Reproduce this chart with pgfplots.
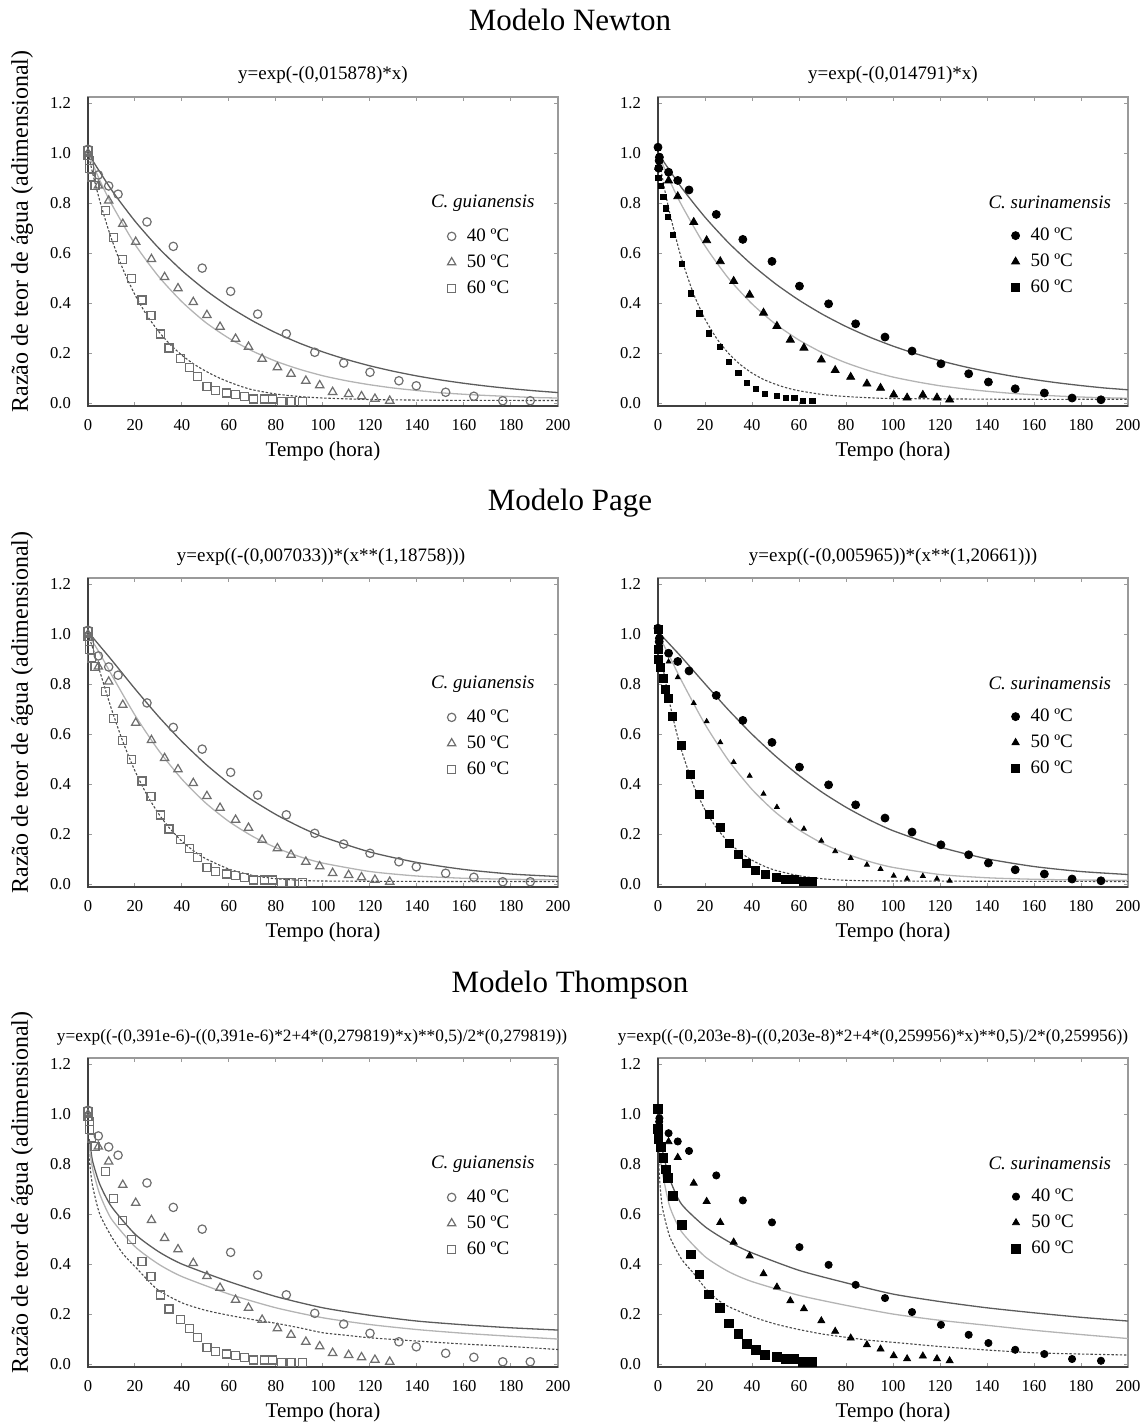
\documentclass[border=0pt]{standalone}
\usepackage{pgfplots}
\pgfplotsset{compat=1.18}
\usepackage{pgfplotstable}
\usepackage{fontspec}
\setmainfont{Liberation Serif}

\definecolor{darkln}{HTML}{5C5C5C}
\definecolor{lightln}{HTML}{B4B4B4}
\definecolor{dotln}{HTML}{4A4A4A}
\definecolor{mkgray}{HTML}{6E6E6E}
\definecolor{framel}{HTML}{9A9A9A}
\definecolor{framed}{HTML}{404040}

% ---------------- observed data ----------------
\pgfplotstableread{
x y
0 1.016
4.4 0.913
8.8 0.869
12.8 0.836
25.1 0.725
36.3 0.627
48.6 0.540
60.7 0.447
72.2 0.356
84.4 0.277
96.5 0.203
108.8 0.160
120.0 0.123
132.3 0.089
139.7 0.069
152.2 0.043
164.2 0.027
176.5 0.009
188.2 0.009
}\GfA
\pgfplotstableread{
x y
0 1.000
4.4 0.870
8.8 0.810
14.8 0.717
20.3 0.645
27.0 0.576
32.6 0.504
38.3 0.459
44.8 0.404
50.6 0.352
56.2 0.305
62.8 0.257
68.3 0.225
74.1 0.177
80.6 0.143
86.4 0.117
92.7 0.089
98.6 0.071
104.1 0.044
110.9 0.036
116.4 0.027
122.1 0.017
128.4 0.009
}\GfB
\pgfplotstableread{
x y
0 1.010
0 0.990
0.5 0.970
0.8 0.940
1.6 0.905
3.0 0.870
7.3 0.772
10.7 0.663
14.7 0.573
18.5 0.500
23.0 0.412
26.8 0.349
30.8 0.276
34.5 0.220
39.3 0.177
43.1 0.141
46.7 0.107
50.6 0.067
54.4 0.051
58.8 0.040
62.6 0.033
66.7 0.027
70.3 0.016
75.1 0.016
78.5 0.016
82.5 0.007
86.4 0.007
91.2 0.007
}\GfC
\pgfplotstableread{
x y
0 1.024
0.6 0.984
0.5 0.970
0.3 0.940
4.5 0.924
8.4 0.891
13.2 0.853
24.8 0.755
36.1 0.655
48.5 0.567
60.2 0.468
72.6 0.397
84.1 0.317
96.6 0.264
108.1 0.208
120.4 0.157
132.2 0.117
140.6 0.084
152.0 0.057
164.4 0.040
176.2 0.020
188.5 0.013
}\SfA
\pgfplotstableread{
x y
0.3 0.944
4.5 0.890
8.4 0.827
15.2 0.724
20.7 0.651
26.5 0.567
32.2 0.488
39.0 0.433
44.9 0.361
50.6 0.308
56.3 0.253
62.1 0.221
69.5 0.173
75.4 0.131
82.0 0.104
88.9 0.077
94.7 0.060
100.3 0.033
106.0 0.021
112.7 0.032
118.7 0.021
124.1 0.013
}\SfB
\pgfplotstableread{
x y
0 1.020
0 0.940
0.2 0.900
1.1 0.868
2.3 0.825
3.3 0.779
4.3 0.745
6.2 0.672
10.0 0.556
13.9 0.439
17.6 0.359
21.7 0.279
26.4 0.225
30.3 0.163
34.2 0.119
37.7 0.081
41.6 0.055
45.5 0.037
50.5 0.028
54.3 0.019
58.0 0.019
61.8 0.009
65.7 0.009
}\SfC

% ---------------- fitted curves ----------------
\pgfplotstableread{
x y
0 1
10 0.8532
20 0.7280
30 0.6211
40 0.5299
50 0.4521
60 0.3857
70 0.3291
80 0.2808
90 0.2396
100 0.2044
110 0.1744
120 0.1488
130 0.1270
140 0.1083
150 0.0924
160 0.0789
170 0.0673
180 0.0574
190 0.0490
200 0.0418
}\NLa
\pgfplotstableread{
x y
0 1
5 0.892
10 0.797
20 0.635
30 0.507
40 0.405
50 0.323
60 0.259
70 0.208
80 0.167
90 0.135
100 0.109
110 0.089
120 0.073
130 0.060
140 0.050
150 0.041
160 0.035
170 0.030
180 0.026
190 0.022
200 0.020
}\NLb
\pgfplotstableread{
x y
0 1
2.5 0.90
5 0.81
7.5 0.73
10 0.657
15 0.533
20 0.433
25 0.352
30 0.287
35 0.234
40 0.191
45 0.156
50 0.128
55 0.104
60 0.084
65 0.067
70 0.053
80 0.036
90 0.026
100 0.020
120 0.014
150 0.011
200 0.010
}\NLc
\pgfplotstableread{
x y
0 1
10 0.8625
20 0.7439
30 0.6416
40 0.5534
50 0.4773
60 0.4117
70 0.3551
80 0.3062
90 0.2641
100 0.2278
110 0.1965
120 0.1695
130 0.1462
140 0.1261
150 0.1087
160 0.0938
170 0.0809
180 0.0698
190 0.0602
200 0.0530
}\NRa
\pgfplotstableread{
x y
0 1
5 0.890
10 0.793
20 0.629
30 0.499
40 0.397
50 0.316
60 0.252
70 0.201
80 0.161
90 0.129
100 0.104
110 0.085
120 0.069
130 0.057
140 0.047
150 0.039
160 0.033
170 0.028
180 0.024
190 0.021
200 0.019
}\NRb
\pgfplotstableread{
x y
0 1
2.5 0.87
5 0.76
7.5 0.665
10 0.578
15 0.44
20 0.336
25 0.258
30 0.199
35 0.154
40 0.12
45 0.094
50 0.075
55 0.060
60 0.049
70 0.034
80 0.026
90 0.021
100 0.018
150 0.015
200 0.015
}\NRc
\pgfplotstableread{
x y
0 1.01
5 0.9536
10 0.8974
20 0.7813
30 0.6708
40 0.5701
50 0.4807
60 0.4027
70 0.3354
80 0.2780
90 0.2295
100 0.1886
120 0.1280
140 0.0862
160 0.0582
180 0.0400
200 0.0300
}\PLa
\pgfplotstableread{
x y
0 1
5 0.9235
10 0.8381
20 0.6758
30 0.5355
40 0.4192
50 0.3250
60 0.2501
70 0.1911
80 0.1452
90 0.1097
100 0.0836
120 0.0500
140 0.0320
160 0.0230
180 0.0190
200 0.0170
}\PLb
\pgfplotstableread{
x y
0 1
2.5 0.9305
5 0.852
10 0.7003
15 0.566
20 0.4525
25 0.3584
30 0.2818
35 0.2202
40 0.1712
45 0.1324
50 0.1020
60 0.0597
70 0.0345
80 0.0210
90 0.0150
100 0.0120
150 0.0100
200 0.0100
}\PLc
\pgfplotstableread{
x y
0 1.01
5 0.9593
10 0.9085
20 0.8013
30 0.6967
40 0.5997
50 0.5121
60 0.4344
70 0.3662
80 0.3073
90 0.2566
100 0.2135
120 0.1480
140 0.1010
160 0.0700
180 0.0500
200 0.0380
}\PRa
\pgfplotstableread{
x y
0 1
5 0.9097
10 0.8141
20 0.6396
30 0.4947
40 0.3786
50 0.2873
60 0.2166
70 0.1624
80 0.1211
90 0.0899
100 0.0665
120 0.0380
140 0.0250
160 0.0190
180 0.0160
200 0.0150
}\PRb
\pgfplotstableread{
x y
0 1
1 0.933
2.5 0.8463
5 0.7239
7.5 0.6214
10 0.5347
15 0.3978
20 0.2973
25 0.2230
30 0.1678
35 0.1264
40 0.0954
45 0.0721
50 0.0547
60 0.0330
70 0.0210
80 0.0150
100 0.0120
200 0.0100
}\PRc
\pgfplotstableread{
x y
0.5 0.90
1 0.87
2 0.81
5 0.72
10 0.63
20 0.52
30 0.45
40 0.40
60 0.33
80 0.27
100 0.225
120 0.195
140 0.172
160 0.157
180 0.145
200 0.136
}\TLa
\pgfplotstableread{
x y
0.5 0.88
1 0.84
2 0.78
5 0.68
10 0.58
20 0.47
30 0.40
40 0.35
60 0.28
80 0.225
100 0.185
120 0.158
140 0.138
160 0.123
180 0.111
200 0.100
}\TLb
\pgfplotstableread{
x y
0.3 0.84
1 0.78
2 0.71
5 0.60
10 0.51
15 0.44
20 0.39
25 0.34
30 0.295
40 0.245
50 0.215
60 0.195
70 0.178
80 0.163
90 0.145
100 0.125
110 0.115
120 0.105
140 0.092
160 0.080
180 0.070
200 0.058
}\TLc
\pgfplotstableread{
x y
0.5 0.93
1 0.90
2 0.85
5 0.74
10 0.64
20 0.55
30 0.49
40 0.445
60 0.375
80 0.325
100 0.280
120 0.250
140 0.225
160 0.205
180 0.187
200 0.172
}\TRa
\pgfplotstableread{
x y
0.5 0.86
1 0.82
2 0.76
5 0.63
10 0.53
20 0.43
30 0.37
40 0.33
60 0.275
80 0.235
100 0.200
120 0.175
140 0.155
160 0.135
180 0.118
200 0.102
}\TRb
\pgfplotstableread{
x y
0.3 0.80
1 0.70
2 0.62
5 0.51
10 0.42
15 0.365
20 0.305
25 0.26
30 0.23
40 0.19
50 0.16
60 0.138
70 0.12
80 0.107
90 0.095
100 0.087
120 0.070
140 0.056
160 0.045
180 0.040
200 0.036
}\TRc

\pgfplotsset{
  panel/.style={
    scale only axis, width=235pt, height=154.5pt,
    anchor=south west,
    xmin=0, xmax=200, ymin=-0.012, ymax=1.225,
    xtick={0,20,40,60,80,100,120,140,160,180,200},
    ytick={0,0.2,0.4,0.6,0.8,1.0,1.2},
    tick align=inside, major tick length=2pt,
    every tick/.style={framel, line width=0.5pt},
    axis line style={framel, line width=0.6pt},
    ticklabel style={font=\fontsize{8.3}{9.5}\selectfont},
    /pgf/number format/assume math mode=true,
    y tick label style={/pgf/number format/.cd, fixed, fixed zerofill, precision=1, /tikz/.cd},
    yticklabel style={xshift=-5pt},
    xticklabel style={yshift=-3pt},
    xlabel={Tempo (hora)},
    xlabel style={font=\fontsize{10.5}{12}\selectfont, at={(axis description cs:0.5,0)}, anchor=center, yshift=-22.5pt},
    clip=false,
    legend style={draw=none, fill=none, font=\fontsize{9.5}{11}\selectfont, anchor=north west, inner sep=0pt, row sep=1.2pt, column sep=3.5pt},
    legend cell align=left,
    legend image code/.code={\draw[mark repeat=2,mark phase=2,#1] plot coordinates {(0pt,0pt) (4pt,0pt) (8pt,0pt)};},
  },
  leftpanel/.style={panel,
    ylabel={Razão de teor de água (adimensional)},
    ylabel style={font=\fontsize{12}{14}\selectfont, at={(axis description cs:-0.140,0.565)}, anchor=center},
    legend style={at={(axis cs:152.8,0.716)}},
  },
  rightpanel/.style={panel,
    legend style={at={(axis cs:150.3,0.719)}},
  },
  c40/.style={darkln, line width=0.65pt, smooth, tension=0.4},
  c50/.style={lightln, line width=0.65pt, smooth, tension=0.4},
  c60/.style={dotln, line width=0.55pt, dash pattern=on 1.2pt off 0.9pt, smooth, tension=0.4},
  oA/.style={only marks, mark=o, mark size=2.1pt, mark options={mkgray, line width=0.6pt}},
  oB/.style={only marks, mark=triangle, mark size=2.4pt, mark options={mkgray, line width=0.6pt}},
  oC/.style={only marks, mark=square, mark size=2.0pt, mark options={mkgray, line width=0.6pt}},
  fA/.style={only marks, mark=*, mark size=#1, mark options={black, fill=black}},
  fB/.style={only marks, mark=triangle*, mark size=#1, mark options={black, fill=black}},
  fC/.style={only marks, mark=square*, mark size=#1, mark options={black, fill=black}},
}

\newcommand{\framefix}{\draw[framed, line width=1.1pt] (rel axis cs:0,1) -- (rel axis cs:0,0) -- (rel axis cs:1,0);}
\newcommand{\eqfont}{\fontsize{9.5}{11}\selectfont}
\newcommand{\eqfontT}{\fontsize{8.65}{10}\selectfont}

\begin{document}
\begin{tikzpicture}
\path[use as bounding box] (0pt,0pt) rectangle (570pt,-712.5pt);

% ---------- titles ----------
\node[font=\fontsize{15.5}{18}\selectfont] at (285pt,-10pt) {Modelo Newton};
\node[font=\fontsize{15.5}{18}\selectfont] at (285pt,-251.5pt) {Modelo Page};
\node[font=\fontsize{15.5}{18}\selectfont] at (285pt,-492.5pt) {Modelo Thompson};

\node[font=\eqfont] at (161.5pt,-37.5pt) {y=exp(-(0,015878)*x)};
\node[font=\eqfont] at (446.5pt,-37.5pt) {y=exp(-(0,014791)*x)};
\node[font=\eqfont] at (160.5pt,-278.5pt) {y=exp((-(0,007033))*(x**(1,18758)))};
\node[font=\eqfont] at (446.5pt,-278.5pt) {y=exp((-(0,005965))*(x**(1,20661)))};
\node[font=\eqfontT] at (156pt,-518.5pt) {y=exp((-(0,391e-6)-((0,391e-6)*2+4*(0,279819)*x)**0,5)/2*(0,279819))};
\node[font=\eqfontT] at (436.5pt,-518.5pt) {y=exp((-(0,203e-8)-((0,203e-8)*2+4*(0,259956)*x)**0,5)/2*(0,259956))};

% ================= Newton =================
\begin{axis}[leftpanel, at={(44pt,-203pt)}]
\addplot[c40, forget plot] table {\NLa};
\addplot[c50, forget plot] table {\NLb};
\addplot[c60, forget plot] table {\NLc};
\addplot[oA] table {\GfA}; \addlegendentry{40 ºC}
\addplot[oB] table {\GfB}; \addlegendentry{50 ºC}
\addplot[oC] table {\GfC}; \addlegendentry{60 ºC}
\node[font=\itshape\fontsize{9.5}{11}\selectfont] at (axis cs:168,0.801) {C. guianensis};
\framefix
\end{axis}

\begin{axis}[rightpanel, at={(329pt,-203pt)}]
\addplot[c40, forget plot] table {\NRa};
\addplot[c50, forget plot] table {\NRb};
\addplot[c60, forget plot] table {\NRc};
\addplot[fA=2.0pt] table {\SfA}; \addlegendentry{40 ºC}
\addplot[fB=2.3pt] table {\SfB}; \addlegendentry{50 ºC}
\addplot[fC=1.3pt, legend image post style={mark size=1.9pt}] table {\SfC}; \addlegendentry{60 ºC}
\node[font=\itshape\fontsize{9.5}{11}\selectfont] at (axis cs:166.7,0.804) {C. surinamensis};
\framefix
\end{axis}

% ================= Page =================
\begin{axis}[leftpanel, at={(44pt,-443.5pt)}]
\addplot[c40, forget plot] table {\PLa};
\addplot[c50, forget plot] table {\PLb};
\addplot[c60, forget plot] table {\PLc};
\addplot[oA] table {\GfA}; \addlegendentry{40 ºC}
\addplot[oB] table {\GfB}; \addlegendentry{50 ºC}
\addplot[oC] table {\GfC}; \addlegendentry{60 ºC}
\node[font=\itshape\fontsize{9.5}{11}\selectfont] at (axis cs:168,0.801) {C. guianensis};
\framefix
\end{axis}

\begin{axis}[rightpanel, at={(329pt,-443.5pt)}]
\addplot[c40, forget plot] table {\PRa};
\addplot[c50, forget plot] table {\PRb};
\addplot[c60, forget plot] table {\PRc};
\addplot[fA=2.0pt] table {\SfA}; \addlegendentry{40 ºC}
\addplot[fB=1.4pt, legend image post style={mark size=2.1pt}] table {\SfB}; \addlegendentry{50 ºC}
\addplot[fC=2.0pt] table {\SfC}; \addlegendentry{60 ºC}
\node[font=\itshape\fontsize{9.5}{11}\selectfont] at (axis cs:166.7,0.804) {C. surinamensis};
\framefix
\end{axis}

% ================= Thompson =================
\begin{axis}[leftpanel, at={(44pt,-683.5pt)}]
\addplot[c40, forget plot] table {\TLa};
\addplot[c50, forget plot] table {\TLb};
\addplot[c60, forget plot] table {\TLc};
\addplot[oA] table {\GfA}; \addlegendentry{40 ºC}
\addplot[oB] table {\GfB}; \addlegendentry{50 ºC}
\addplot[oC] table {\GfC}; \addlegendentry{60 ºC}
\node[font=\itshape\fontsize{9.5}{11}\selectfont] at (axis cs:168,0.801) {C. guianensis};
\framefix
\end{axis}

\begin{axis}[rightpanel, at={(329pt,-683.5pt)}]
\addplot[c40, forget plot] table {\TRa};
\addplot[c50, forget plot] table {\TRb};
\addplot[c60, forget plot] table {\TRc};
\addplot[fA=1.8pt] table {\SfA}; \addlegendentry{40 ºC}
\addplot[fB=2.0pt] table {\SfB}; \addlegendentry{50 ºC}
\addplot[fC=2.2pt] table {\SfC}; \addlegendentry{60 ºC}
\node[font=\itshape\fontsize{9.5}{11}\selectfont] at (axis cs:166.7,0.804) {C. surinamensis};
\framefix
\end{axis}
\end{tikzpicture}
\end{document}
